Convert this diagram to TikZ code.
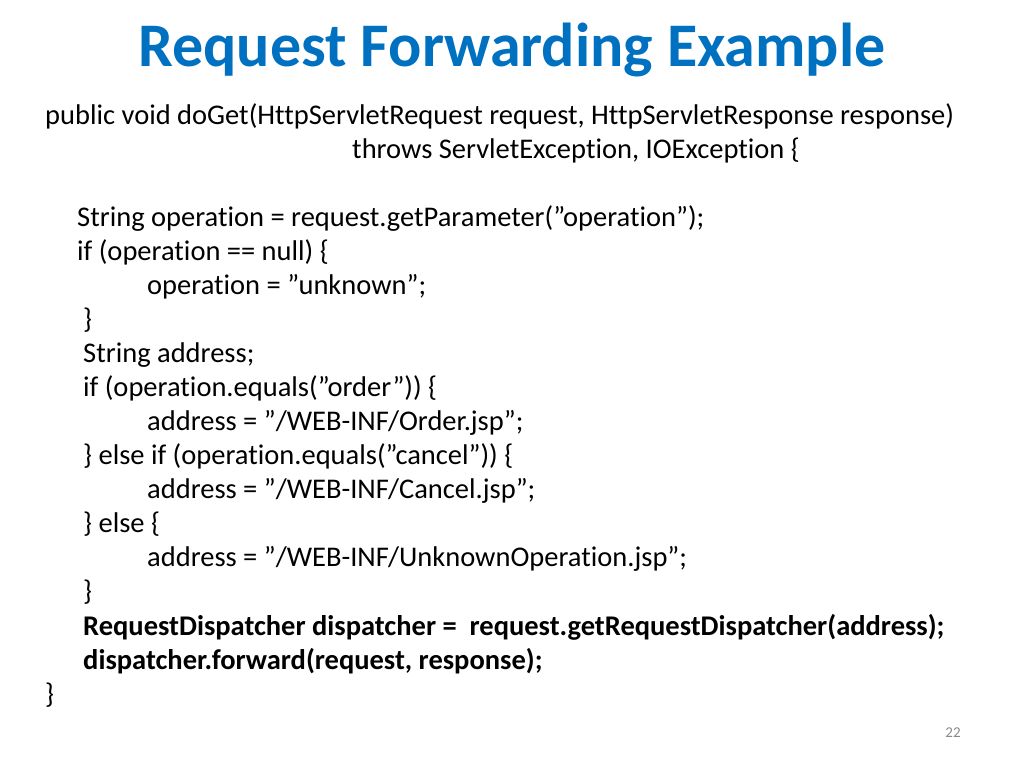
\documentclass[tikz,border=0pt]{standalone}
\usepackage{fontspec}
\setmainfont{Carlito}[Ligatures=NoCommon]
\definecolor{titleblue}{RGB}{0,112,192}
\definecolor{pagegray}{RGB}{137,137,137}
\newcommand\dq{\char34 }
\tikzset{
  codeline/.style={anchor=base west, inner sep=0pt, font=\fontsize{28.5}{32}\selectfont},
  boldline/.style={codeline, font=\fontsize{28.5}{32}\selectfont\bfseries}
}
\begin{document}
\begin{tikzpicture}[x=1pt,y=-1pt]
  \useasboundingbox (0,0) rectangle (1024,768);
  \node (title) at (512,50) [inner sep=0pt, text=titleblue,
        font=\fontsize{62}{66}\selectfont\bfseries] {Request Forwarding Example};
  % method header
  \node (l1) at (45,124) [codeline] {public void doGet(HttpServletRequest request, HttpServletResponse response)};
  \node (l2) at (352,158) [codeline] {throws ServletException, IOException \{};
  % body
  \node (l3) at (77,226) [codeline] {String operation = request.getParameter(\dq operation\dq);};
  \node (l4) at (77,260) [codeline] {if (operation == null) \{};
  \node (l5) at (147,294) [codeline] {operation = \dq unknown\dq;};
  \node (l6) at (83,328) [codeline] {\}};
  \node (l7) at (83,362) [codeline] {String address;};
  \node (l8) at (83,396) [codeline] {if (operation.equals(\dq order\dq)) \{};
  \node (l9) at (147,430) [codeline] {address = \dq/WEB-INF/Order.jsp\dq;};
  \node (l10) at (83,464) [codeline] {\} else if (operation.equals(\dq cancel\dq)) \{};
  \node (l11) at (147,498) [codeline] {address = \dq/WEB-INF/Cancel.jsp\dq;};
  \node (l12) at (83,532) [codeline] {\} else \{};
  \node (l13) at (147,566) [codeline] {address = \dq/WEB-INF/UnknownOperation.jsp\dq;};
  \node (l14) at (83,600) [codeline] {\}};
  \node (l15) at (83,635) [boldline] {RequestDispatcher dispatcher =\ \ request.getRequestDispatcher(address);};
  \node (l16) at (83,669) [boldline] {dispatcher.forward(request, response);};
  \node (l17) at (45,703) [codeline] {\}};
  % page number
  \node (page) at (953,733) [inner sep=0pt, text=pagegray, font=\fontsize{15}{17}\selectfont] {22};
\end{tikzpicture}
\end{document}
